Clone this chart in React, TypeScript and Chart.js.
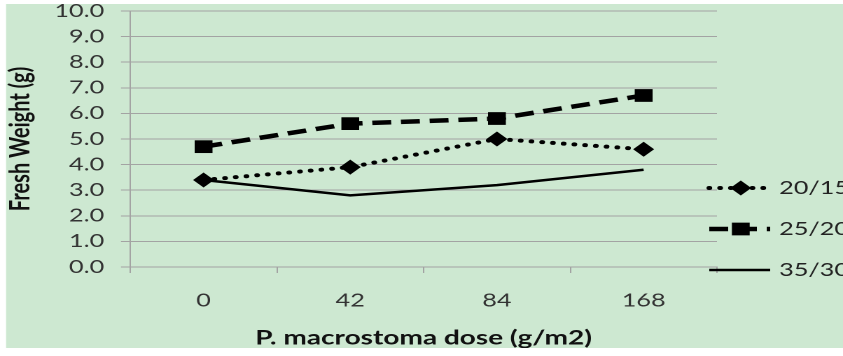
import React, { useEffect, useRef } from "react";
import { Chart, registerables } from "chart.js";

Chart.register(...registerables);

// ---- data ----
const categories = ["0", "42", "84", "168"];
const series2015 = [3.4, 3.9, 5.0, 4.6];
const series2520 = [4.7, 5.6, 5.8, 6.7];
const series3530 = [3.4, 2.8, 3.2, 3.8];
const seriesLabels = ["20/15", "25/20", "35/30"];
const yMin = 0;
const yMax = 10;
const yStep = 1;
const xTitle = "P. macrostoma dose (g/m2)";
const yTitle = "Fresh Weight (g)";

// ---- layout (logical canvas, stretched horizontally) ----
const W = 602;
const H = 356;
const FONT = "Lato, 'Open Sans', sans-serif";
const GREEN = "#CDE8D1";
const GRID = "#A3A3A3";

const bgPlugin = {
  id: "bgPlugin",
  beforeDraw(chart: any) {
    const ctx = chart.ctx;
    ctx.save();
    ctx.fillStyle = GREEN;
    ctx.fillRect(4.3, 4, W - 4.3, 344);
    ctx.restore();
  },
};

const clipPlugin = {
  id: "clipBottom",
  afterDraw(chart: any) {
    const ctx = chart.ctx;
    ctx.save();
    ctx.fillStyle = "#ffffff";
    ctx.fillRect(0, 348, W, H - 348);
    ctx.restore();
  },
};

const legendPlugin = {
  id: "customLegend",
  afterDraw(chart: any) {
    const ctx = chart.ctx;
    const rows = [188, 229, 270];
    const x0 = 506.5;
    const x1 = 550;
    const mx = 529;
    const tx = 556.4;
    chart.data.datasets.forEach((ds: any, i: number) => {
      const y = rows[i];
      ctx.save();
      ctx.strokeStyle = ds.borderColor;
      ctx.lineWidth = ds.borderWidth;
      ctx.lineCap = ds.borderCapStyle || "butt";
      ctx.setLineDash(ds.borderDash || []);
      ctx.beginPath();
      ctx.moveTo(x0, y);
      ctx.lineTo(x1, y);
      ctx.stroke();
      ctx.setLineDash([]);
      if (ds.pointRadius > 0) {
        ctx.fillStyle = ds.pointBackgroundColor;
        ctx.beginPath();
        if (ds.pointStyle === "rectRot") {
          const r = ds.pointRadius;
          ctx.moveTo(mx - r, y);
          ctx.lineTo(mx, y - r);
          ctx.lineTo(mx + r, y);
          ctx.lineTo(mx, y + r);
          ctx.closePath();
        } else {
          const s = Math.SQRT1_2 * ds.pointRadius;
          ctx.rect(mx - s, y - s, 2 * s, 2 * s);
        }
        ctx.fill();
      }
      ctx.fillStyle = "#222222";
      ctx.font = `18px ${FONT}`;
      ctx.textBaseline = "middle";
      ctx.textAlign = "left";
      ctx.fillText(ds.label, tx, y);
      ctx.restore();
    });
  },
};

export default function App() {
  const ref = useRef<HTMLCanvasElement | null>(null);

  useEffect(() => {
    if (!ref.current) return;
    const chart = new Chart(ref.current, {
      type: "line",
      data: {
        labels: categories,
        datasets: [
          {
            label: seriesLabels[0],
            data: series2015,
            borderColor: "#000000",
            backgroundColor: "#000000",
            borderWidth: 4,
            borderDash: [0.1, 7.6],
            borderCapStyle: "round",
            pointStyle: "rectRot",
            pointRadius: 7.5,
            pointBackgroundColor: "#000000",
            pointBorderWidth: 0,
            tension: 0,
          },
          {
            label: seriesLabels[1],
            data: series2520,
            borderColor: "#000000",
            backgroundColor: "#000000",
            borderWidth: 4.5,
            borderDash: [13.5, 7],
            borderCapStyle: "butt",
            pointStyle: "rect",
            pointRadius: 9,
            pointBackgroundColor: "#000000",
            pointBorderWidth: 0,
            tension: 0,
          },
          {
            label: seriesLabels[2],
            data: series3530,
            borderColor: "#000000",
            backgroundColor: "#000000",
            borderWidth: 2.5,
            pointRadius: 0,
            pointBackgroundColor: "#000000",
            tension: 0,
          },
        ],
      } as any,
      options: {
        responsive: false,
        animation: false,
        devicePixelRatio: 2,
        layout: { padding: { left: 0, top: 11, right: 90, bottom: 0 } },
        plugins: {
          legend: { display: false },
          tooltip: { enabled: false },
        },
        scales: {
          x: {
            type: "category",
            offset: true,
            grid: {
              drawOnChartArea: false,
              drawTicks: true,
              tickLength: 6,
              offset: true,
              color: GRID,
            },
            border: { color: GRID, width: 1 },
            ticks: {
              font: { family: FONT, size: 18 },
              color: "#333333",
              padding: 17,
              maxRotation: 0,
              autoSkip: false,
            },
            title: {
              display: true,
              text: xTitle,
              font: { family: FONT, size: 20, weight: "bold" },
              color: "#111111",
              padding: { top: 0, bottom: 6 },
            },
            afterFit: (s: any) => {
              s.height = 89;
              s.paddingLeft = 0;
              s.paddingRight = 0;
            },
          },
          y: {
            min: yMin,
            max: yMax,
            grid: { color: GRID, tickLength: 6.6, lineWidth: 1 },
            border: { color: GRID, width: 1 },
            ticks: {
              stepSize: yStep,
              autoSkip: false,
              font: { family: FONT, size: 18 },
              color: "#333333",
              padding: 12,
              callback: (v: any) => Number(v).toFixed(1),
            },
            title: {
              display: true,
              text: yTitle,
              font: { family: FONT, size: 20, weight: "bold" },
              color: "#111111",
              padding: { top: 2.3, bottom: 0 },
            },
            afterFit: (s: any) => {
              s.width = 93;
              s.paddingTop = 0;
              s.paddingBottom = 0;
            },
          },
        },
      } as any,
      plugins: [bgPlugin, legendPlugin, clipPlugin],
    });
    return () => chart.destroy();
  }, []);

  return (
    <div
      style={{
        position: "fixed",
        left: 0,
        top: 0,
        width: 843,
        height: H,
        overflow: "hidden",
        background: "#ffffff",
      }}
    >
      <canvas
        ref={ref}
        width={W}
        height={H}
        style={{
          width: W,
          height: H,
          transform: `scaleX(${843 / W})`,
          transformOrigin: "0 0",
          display: "block",
        }}
      />
    </div>
  );
}
